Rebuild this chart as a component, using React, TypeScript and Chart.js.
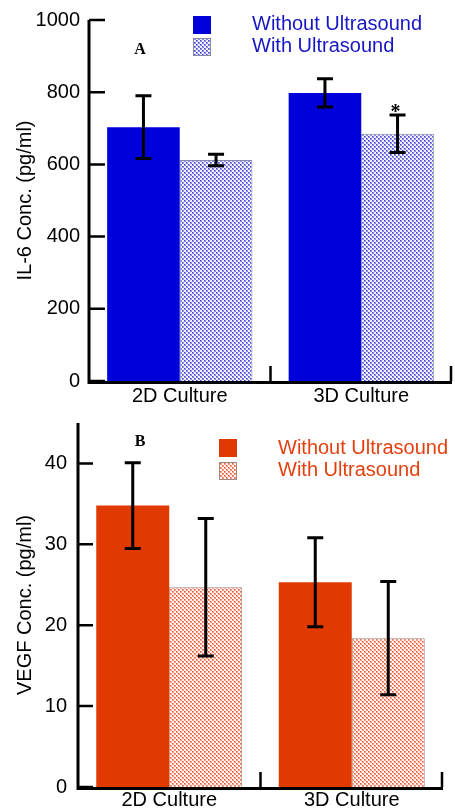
import { useEffect, useRef } from 'react';
import { Chart, registerables } from 'chart.js';

Chart.register(...registerables);

const categories = ['2D Culture', '3D Culture'];
const seriesLabels = ['Without Ultrasound', 'With Ultrasound'];

const il6Without = [703, 798];
const il6WithoutErr = [87, 39];
const il6With = [612, 685];
const il6WithErr = [16, 52];

const vegfWithout = [34.8, 25.3];
const vegfWithoutErr = [5.3, 5.5];
const vegfWith = [24.7, 18.4];
const vegfWithErr = [8.5, 7.0];

const il6Ticks = [0, 200, 400, 600, 800, 1000];
const vegfTicks = [0, 10, 20, 30, 40];

const FONT = 'Liberation Sans, Arial, sans-serif';
const FS = 20;

function makePattern(a: string, b: string, dot: string) {
  const c = document.createElement('canvas');
  c.width = 4;
  c.height = 4;
  const ctx = c.getContext('2d')!;
  ctx.fillStyle = b;
  ctx.fillRect(0, 0, 4, 4);
  ctx.fillStyle = a;
  ctx.fillRect(0, 0, 2, 2);
  ctx.fillRect(2, 2, 2, 2);
  ctx.fillStyle = dot;
  ctx.fillRect(0, 0, 1, 1);
  ctx.fillRect(2, 2, 1, 1);
  return ctx.createPattern(c, 'repeat')!;
}

interface DecorCfg {
  errors: number[][];
  tickLen: number;
  legend: { boxX: number; boxY: number[]; box: number; textX: number; textY: number[]; color: string };
  letter: { text: string; x: number; y: number };
  star?: { ds: number; idx: number };
}

function makeDecor(cfg: DecorCfg) {
  return {
    id: 'decor',
    afterDraw(chart: any) {
      const ctx: CanvasRenderingContext2D = chart.ctx;
      const area = chart.chartArea;
      const xs = chart.scales.x;
      const ys = chart.scales.y;
      ctx.save();
      // error bars
      ctx.strokeStyle = '#000';
      ctx.lineWidth = 3;
      ctx.lineCap = 'butt';
      chart.data.datasets.forEach((ds: any, i: number) => {
        const meta = chart.getDatasetMeta(i);
        meta.data.forEach((bar: any, j: number) => {
          const v = ds.data[j];
          const e = cfg.errors[i][j];
          const x = bar.x;
          const yt = ys.getPixelForValue(v + e);
          const yb = ys.getPixelForValue(v - e);
          ctx.beginPath();
          ctx.moveTo(x, yt);
          ctx.lineTo(x, yb);
          ctx.moveTo(x - 8, yt);
          ctx.lineTo(x + 8, yt);
          ctx.moveTo(x - 8, yb);
          ctx.lineTo(x + 8, yb);
          ctx.stroke();
          if (cfg.star && cfg.star.ds === i && cfg.star.idx === j) {
            ctx.fillStyle = '#000';
            ctx.font = 'bold 20px "Liberation Serif", serif';
            ctx.textAlign = 'center';
            ctx.textBaseline = 'alphabetic';
            ctx.fillText('*', x - 2, yt + 3);
          }
        });
      });
      // axes
      ctx.strokeStyle = '#000';
      ctx.lineWidth = 3;
      ctx.beginPath();
      ctx.moveTo(area.left, area.top);
      ctx.lineTo(area.left, area.bottom + 1.5);
      ctx.lineTo(area.right, area.bottom + 1.5);
      ctx.stroke();
      ctx.lineWidth = 2.5;
      ctx.beginPath();
      ys.ticks.forEach((t: any) => {
        const y = ys.getPixelForValue(t.value);
        ctx.moveTo(area.left, y);
        ctx.lineTo(area.left + cfg.tickLen, y);
      });
      const n = chart.data.labels.length;
      for (let k = 0; k < n; k++) {
        const bx = k < n - 1 ? (xs.getPixelForValue(k) + xs.getPixelForValue(k + 1)) / 2 : area.right - 1;
        ctx.moveTo(bx, area.bottom);
        ctx.lineTo(bx, area.bottom - 15);
      }
      ctx.stroke();
      // legend
      const L = cfg.legend;
      chart.data.datasets.forEach((ds: any, i: number) => {
        ctx.fillStyle = ds.backgroundColor;
        ctx.fillRect(L.boxX, L.boxY[i], L.box, L.box);
        if (ds.borderWidth) {
          ctx.strokeStyle = ds.borderColor;
          ctx.lineWidth = 1;
          ctx.strokeRect(L.boxX + 0.5, L.boxY[i] + 0.5, L.box - 1, L.box - 1);
        }
        ctx.fillStyle = L.color;
        ctx.font = `${FS}px ${FONT}`;
        ctx.textAlign = 'left';
        ctx.textBaseline = 'middle';
        ctx.fillText(ds.label, L.textX, L.textY[i]);
      });
      // panel letter
      ctx.fillStyle = '#000';
      ctx.font = 'bold 16px "Liberation Serif", serif';
      ctx.textAlign = 'center';
      ctx.textBaseline = 'middle';
      ctx.fillText(cfg.letter.text, cfg.letter.x, cfg.letter.y);
      ctx.restore();
    },
  };
}

function baseOptions(opts: {
  padTop: number; padRight: number; yWidth: number; xHeight: number; xPad: number; yPad: number;
  min: number; max: number; ticks: number[]; title: string;
}) {
  const font = { family: FONT, size: FS };
  return {
    responsive: false,
    animation: false as const,
    layout: { padding: { top: opts.padTop, right: opts.padRight, left: 0, bottom: 0 } },
    plugins: { legend: { display: false }, tooltip: { enabled: false } },
    scales: {
      x: {
        grid: { display: false, drawTicks: false },
        border: { display: false },
        ticks: { font, color: '#000', padding: opts.xPad },
        afterFit: (s: any) => {
          s.height = opts.xHeight;
          s.paddingLeft = 0;
          s.paddingRight = 0;
        },
      },
      y: {
        min: opts.min,
        max: opts.max,
        grid: { display: false, drawTicks: false },
        border: { display: false },
        ticks: { font, color: '#000', padding: opts.yPad, callback: (v: any) => String(v) },
        afterBuildTicks: (s: any) => {
          s.ticks = opts.ticks.map((v) => ({ value: v }));
        },
        title: { display: true, text: opts.title, font, color: '#000', padding: { top: 13, bottom: 0 } },
        afterFit: (s: any) => {
          s.width = opts.yWidth;
          s.paddingTop = 0;
          s.paddingBottom = 0;
        },
      },
    },
  };
}

export default function App() {
  const refA = useRef<HTMLCanvasElement>(null);
  const refB = useRef<HTMLCanvasElement>(null);

  useEffect(() => {
    const blue = '#0000da';
    const bluePat = makePattern('#8a8ae4', '#f2f2ff', '#4646d0');
    const red = '#e03a00';
    const redPat = makePattern('#f19a86', '#fff0ea', '#de5a3c');

    const chartA = new Chart(refA.current!, {
      type: 'bar',
      data: {
        labels: categories,
        datasets: [
          { label: seriesLabels[0], data: il6Without, backgroundColor: blue, borderWidth: 0, categoryPercentage: 0.8, barPercentage: 1.0 },
          { label: seriesLabels[1], data: il6With, backgroundColor: bluePat as any, borderColor: '#8888a8', borderWidth: 1, categoryPercentage: 0.8, barPercentage: 1.0 },
        ],
      },
      options: baseOptions({ padTop: 20, padRight: 3, yWidth: 89, xHeight: 34, xPad: 3, yPad: 9, min: 0, max: 1000, ticks: il6Ticks, title: 'IL-6 Conc. (pg/ml)' }) as any,
      plugins: [
        makeDecor({
          errors: [il6WithoutErr, il6WithErr],
          tickLen: 16,
          legend: { boxX: 193, boxY: [16, 38], box: 18, textX: 252, textY: [24.5, 46.5], color: '#1616c4' },
          letter: { text: 'A', x: 140, y: 50 },
          star: { ds: 1, idx: 1 },
        }),
      ],
    });

    const chartB = new Chart(refB.current!, {
      type: 'bar',
      data: {
        labels: categories,
        datasets: [
          { label: seriesLabels[0], data: vegfWithout, backgroundColor: red, borderWidth: 0, categoryPercentage: 0.8, barPercentage: 1.0 },
          { label: seriesLabels[1], data: vegfWith, backgroundColor: redPat as any, borderColor: '#a08880', borderWidth: 1, categoryPercentage: 0.8, barPercentage: 1.0 },
        ],
      },
      options: baseOptions({ padTop: 8, padRight: 12, yWidth: 78, xHeight: 24, xPad: 1, yPad: 11, min: 0, max: 45, ticks: vegfTicks, title: 'VEGF Conc. (pg/ml)' }) as any,
      plugins: [
        makeDecor({
          errors: [vegfWithoutErr, vegfWithErr],
          tickLen: 15,
          legend: { boxX: 219, boxY: [24, 47], box: 18, textX: 278, textY: [33, 55], color: '#e4400f' },
          letter: { text: 'B', x: 140, y: 27 },
        }),
      ],
    });

    return () => {
      chartA.destroy();
      chartB.destroy();
    };
  }, []);

  return (
    <div style={{ position: 'absolute', left: 0, top: 0, width: 455, height: 811, background: '#fff' }}>
      <canvas ref={refA} width={455} height={415} style={{ position: 'absolute', left: 0, top: 0, width: 455, height: 415 }} />
      <canvas ref={refB} width={455} height={396} style={{ position: 'absolute', left: 0, top: 415, width: 455, height: 396 }} />
    </div>
  );
}
